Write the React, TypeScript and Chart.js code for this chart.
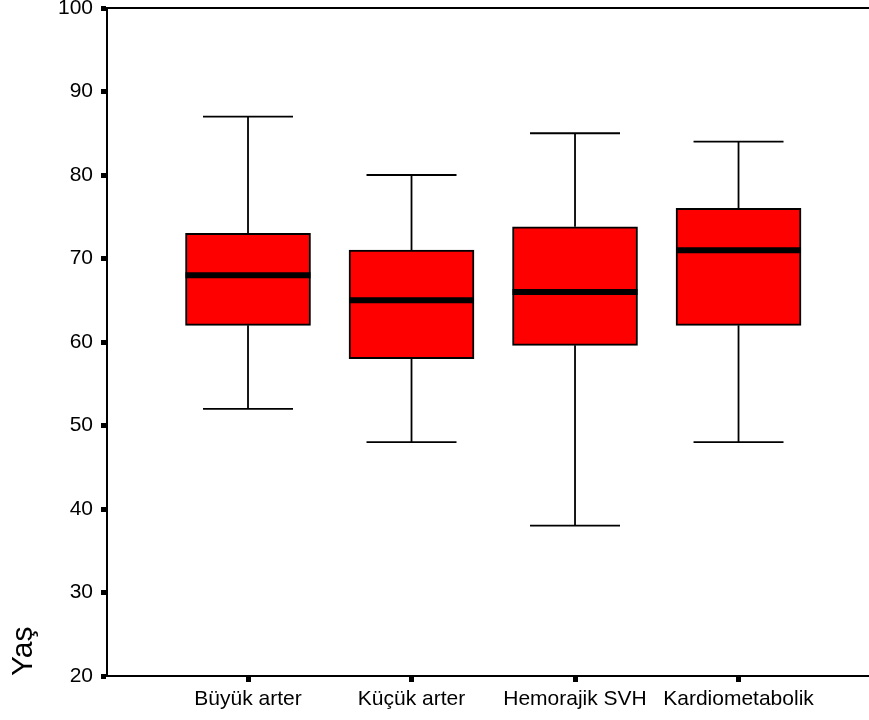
import React, { useEffect, useRef } from "react";
import { Chart, registerables } from "chart.js";

Chart.register(...registerables);

const categories = ["Büyük arter", "Küçük arter", "Hemorajik SVH", "Kardiometabolik"];
const positions = [1, 2, 3, 4];
const mins = [52, 48, 38, 48];
const q1s = [62, 58, 59.6, 62];
const medians = [68, 65, 66, 71];
const q3s = [73, 71, 73.8, 76];
const maxs = [87, 80, 85, 84];
const yTickValues = [20, 30, 40, 50, 60, 70, 80, 90, 100];
const yTitle = "Yaş";

const FONT = "Arial, 'Liberation Sans', sans-serif";

const boxPlugin = {
  id: "boxWhiskers",
  afterDatasetsDraw(chart: any) {
    const { ctx, chartArea } = chart;
    const xs = chart.scales.x;
    const ys = chart.scales.y;
    ctx.save();
    ctx.strokeStyle = "#000";
    ctx.lineWidth = 2;
    ctx.beginPath();
    ctx.moveTo(chartArea.left, chartArea.top);
    ctx.lineTo(chartArea.right, chartArea.top);
    ctx.stroke();
    positions.forEach((p, i) => {
      const x = xs.getPixelForValue(p);
      const capHalf = 45;
      const boxHalf = 62.5;
      ctx.lineWidth = 1.8;
      ctx.beginPath();
      ctx.moveTo(x, ys.getPixelForValue(q3s[i]));
      ctx.lineTo(x, ys.getPixelForValue(maxs[i]));
      ctx.moveTo(x, ys.getPixelForValue(q1s[i]));
      ctx.lineTo(x, ys.getPixelForValue(mins[i]));
      ctx.moveTo(x - capHalf, ys.getPixelForValue(maxs[i]));
      ctx.lineTo(x + capHalf, ys.getPixelForValue(maxs[i]));
      ctx.moveTo(x - capHalf, ys.getPixelForValue(mins[i]));
      ctx.lineTo(x + capHalf, ys.getPixelForValue(mins[i]));
      ctx.stroke();
      ctx.lineWidth = 6;
      ctx.beginPath();
      ctx.moveTo(x - boxHalf, ys.getPixelForValue(medians[i]));
      ctx.lineTo(x + boxHalf, ys.getPixelForValue(medians[i]));
      ctx.stroke();
    });
    ctx.restore();
  },
};

export default function App() {
  const ref = useRef<HTMLCanvasElement | null>(null);
  useEffect(() => {
    document.body.style.overflow = "hidden";
    const chart = new Chart(ref.current as HTMLCanvasElement, {
      type: "bar",
      data: {
        datasets: [
          {
            data: positions.map((p, i) => ({ x: p, y: [q1s[i], q3s[i]] })) as any,
            backgroundColor: "#ff0000",
            borderColor: "#000",
            borderWidth: 2,
            borderSkipped: false,
            barThickness: 125,
          },
        ],
      },
      options: {
        animation: false,
        responsive: true,
        maintainAspectRatio: false,
        layout: { padding: { top: 8, left: 0, right: 0, bottom: 0 } },
        plugins: { legend: { display: false }, tooltip: { enabled: false } },
        scales: {
          x: {
            type: "linear",
            offset: false,
            min: 0.1376,
            max: 4.798,
            afterBuildTicks: (s: any) => {
              s.ticks = positions.map((v) => ({ value: v }));
            },
            afterFit: (s: any) => {
              s.height = 44;
              s.paddingLeft = 0;
              s.paddingRight = 0;
            },
            ticks: {
              autoSkip: false,
              maxRotation: 0,
              color: "#000",
              padding: 5,
              font: { family: FONT, size: 21 },
              callback: (v: any) => categories[Math.round(v) - 1] ?? "",
            },
            grid: { offset: false, drawOnChartArea: false, tickLength: 6, tickWidth: 5, color: "#000" },
            border: { color: "#000", width: 2 },
          },
          y: {
            min: 20,
            max: 100,
            afterBuildTicks: (s: any) => {
              s.ticks = yTickValues.map((v) => ({ value: v }));
            },
            afterFit: (s: any) => {
              s.width = 107;
              s.paddingTop = 0;
              s.paddingBottom = 0;
            },
            ticks: {
              color: "#000",
              padding: 8,
              font: { family: FONT, size: 21 },
            },
            grid: { drawOnChartArea: false, tickLength: 6, tickWidth: 5, color: "#000" },
            border: { color: "#000", width: 2 },
            title: {
              display: true,
              text: yTitle,
              align: "start",
              color: "#000",
              font: { family: FONT, size: 30 },
              padding: { top: 6, bottom: 0 },
            },
          },
        },
      },
      plugins: [boxPlugin],
    });
    return () => chart.destroy();
  }, []);
  return (
    <div style={{ position: "absolute", left: 0, top: 0, width: 869, height: 720 }}>
      <canvas ref={ref} />
    </div>
  );
}
